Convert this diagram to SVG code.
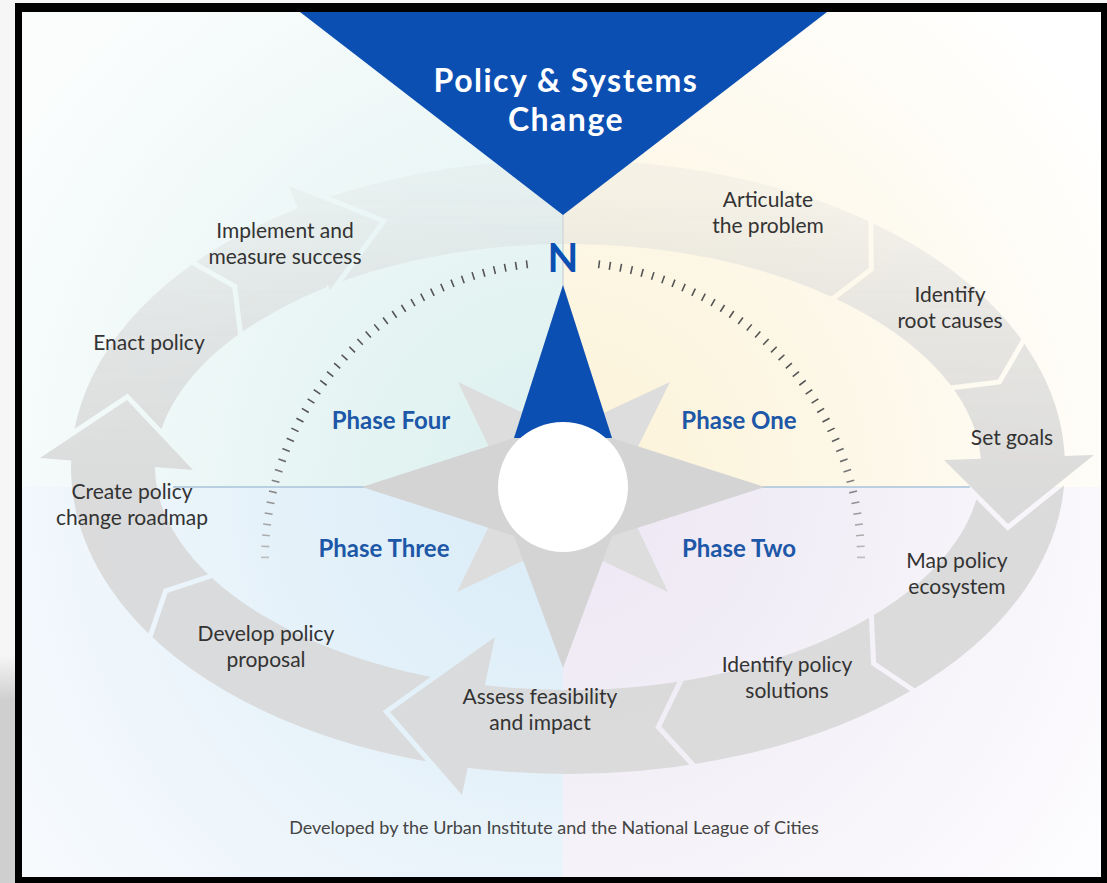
<svg xmlns="http://www.w3.org/2000/svg" width="1107" height="883" viewBox="0 0 1107 883">
<defs>
<style>
.lbl{font-family:Lato,"Liberation Sans",sans-serif;font-size:21px;fill:#333;text-anchor:middle}
.phase{font-family:Lato,"Liberation Sans",sans-serif;font-weight:700;font-size:24px;fill:#1d57a7;text-anchor:middle}
.title{font-family:Lato,"Liberation Sans",sans-serif;font-weight:700;font-size:32px;letter-spacing:1.5px;fill:#fff;text-anchor:middle}
.ringfill{fill:#d9d9d9}
.gap{fill:none;stroke:#000;stroke-linejoin:miter;stroke-miterlimit:10}
.tick{fill:none;stroke:url(#tickG);stroke-width:8;stroke-dasharray:1.6 9.4}
</style>
<radialGradient id="gTL" gradientUnits="userSpaceOnUse" cx="563" cy="487" r="650"><stop offset="0" stop-color="#dbf0ee"/><stop offset="0.35" stop-color="#e5f4f3"/><stop offset="1" stop-color="#fbfdfd"/></radialGradient>
<radialGradient id="gTR" gradientUnits="userSpaceOnUse" cx="563" cy="487" r="650"><stop offset="0" stop-color="#fcf2d6"/><stop offset="0.35" stop-color="#fcf6e3"/><stop offset="1" stop-color="#ffffff"/></radialGradient>
<radialGradient id="gBL" gradientUnits="userSpaceOnUse" cx="563" cy="487" r="650"><stop offset="0" stop-color="#d9ecf8"/><stop offset="0.35" stop-color="#e2f0f9"/><stop offset="1" stop-color="#f7fafd"/></radialGradient>
<radialGradient id="gBR" gradientUnits="userSpaceOnUse" cx="563" cy="487" r="650"><stop offset="0" stop-color="#ece6f3"/><stop offset="0.35" stop-color="#f1edf6"/><stop offset="1" stop-color="#fdfcfe"/></radialGradient>
<linearGradient id="sideG" gradientUnits="userSpaceOnUse" x1="0" y1="655" x2="0" y2="700"><stop offset="0" stop-color="#f6f6f6"/><stop offset="1" stop-color="#cfcfcf"/></linearGradient>
<linearGradient id="tickG" gradientUnits="userSpaceOnUse" x1="0" y1="430" x2="0" y2="570"><stop offset="0" stop-color="#555"/><stop offset="1" stop-color="#c9c9c9"/></linearGradient>
<linearGradient id="fadeG" gradientUnits="userSpaceOnUse" x1="0" y1="185" x2="0" y2="470"><stop offset="0" stop-color="#3a3a3a"/><stop offset="0.5" stop-color="#b0b0b0"/><stop offset="1" stop-color="#ffffff"/></linearGradient>
<mask id="fade" maskUnits="userSpaceOnUse" x="0" y="0" width="1107" height="883"><rect width="1107" height="883" fill="url(#fadeG)"/></mask>
<mask id="gaps" maskUnits="userSpaceOnUse" x="0" y="0" width="1107" height="883">
<rect width="1107" height="883" fill="#fff"/>
<g class="gap" stroke-width="5">
<polyline points="870.8,215.6 871.3,269.3 828.6,301.8"/>
<polyline points="1026.3,335.6 999.4,382 946.1,388.4"/>
<polyline points="918.1,693.5 873.6,663.5 871.1,609.9"/>
<polyline points="699.1,771.6 658.3,727 684.7,672.6"/>
<polyline points="148.3,641.8 165.6,591 216.5,574.2"/>
<polyline points="187.9,259.9 234.6,286.4 241.3,339.7"/>
</g>
<g class="gap" stroke-width="10">
<polyline points="944,460 1008,524 1094,455"/>
<polyline points="495,637 390,712 462,795"/>
<polyline points="40,458 127,400 193,470"/>
<polyline points="289,186 380,222 330,290"/>
</g>
</mask>
</defs>

<g id="background">
<rect width="1107" height="883" fill="#f6f6f6"/>
<rect x="0" y="655" width="15" height="228" fill="url(#sideG)"/>
<rect x="15" y="3" width="1092" height="880" fill="#000"/>
<rect x="22" y="12" width="541" height="475" fill="url(#gTL)"/>
<rect x="563" y="12" width="538" height="475" fill="url(#gTR)"/>
<rect x="22" y="487" width="541" height="390" fill="url(#gBL)"/>
<rect x="563" y="487" width="538" height="390" fill="url(#gBR)"/>
<line x1="173" y1="487" x2="970" y2="487" stroke="#a9c3da" stroke-width="1.5"/>
<line x1="563" y1="212" x2="563" y2="292" stroke="#c6d0d8" stroke-width="1.2"/>
</g>

<g id="dial-ticks">
<path class="tick" d="M527.7,264.2 A298,298 0 0 0 265,560"/>
<path class="tick" d="M598.3,264.2 A298,298 0 0 1 861,560"/>
</g>

<g id="cycle-arrows" mask="url(#fade)" opacity="0.9">
<ellipse cx="568" cy="467" rx="455" ry="265" fill="none" stroke="#d9d9d9" stroke-width="84" mask="url(#gaps)"/>
<polygon class="ringfill" points="944,460 1094,455 1008,524"/>
<polygon class="ringfill" points="495,637 390,712 462,795"/>
<polygon class="ringfill" points="40,458 127,400 193,470"/>
<polygon class="ringfill" points="289,186 380,222 330,290"/>
</g>

<g id="compass">
<polygon points="670,382 618,487 668,592 563,542 457,592 508,487 458,382 563,432" fill="#dddddd"/>
<polygon points="563,285 612,438 765,487 612,536 563,668 514,536 362,487 514,438" fill="#d4d4d4"/>
<polygon points="563,285 612,438 514,438" fill="#0c4fb3"/>
<circle cx="563" cy="487" r="65" fill="#fff"/>
</g>

<g id="title-banner">
<polygon points="300,12 827,12 563,215" fill="#0c4fb3"/>
<text class="title" x="566" y="92">Policy &amp; Systems</text>
<text class="title" x="566" y="131">Change</text>
</g>

<g id="north">
<text x="563" y="272" text-anchor="middle" font-family="Lato,'Liberation Sans',sans-serif" font-weight="700" font-size="40" fill="#0c4fb3">N</text>
</g>

<g id="phase-one"><text class="phase" x="739" y="429">Phase One</text></g>
<g id="phase-two"><text class="phase" x="739" y="557">Phase Two</text></g>
<g id="phase-three"><text class="phase" x="384" y="557">Phase Three</text></g>
<g id="phase-four"><text class="phase" x="391" y="429">Phase Four</text></g>

<g id="step-articulate"><text class="lbl" x="768" y="207">Articulate</text><text class="lbl" x="768" y="233">the problem</text></g>
<g id="step-root-causes"><text class="lbl" x="950" y="302">Identify</text><text class="lbl" x="950" y="328">root causes</text></g>
<g id="step-set-goals"><text class="lbl" x="1012" y="445">Set goals</text></g>
<g id="step-map"><text class="lbl" x="957" y="568">Map policy</text><text class="lbl" x="957" y="594">ecosystem</text></g>
<g id="step-solutions"><text class="lbl" x="787" y="672">Identify policy</text><text class="lbl" x="787" y="698">solutions</text></g>
<g id="step-assess"><text class="lbl" x="540" y="704">Assess feasibility</text><text class="lbl" x="540" y="730">and impact</text></g>
<g id="step-develop"><text class="lbl" x="266" y="641">Develop policy</text><text class="lbl" x="266" y="667">proposal</text></g>
<g id="step-roadmap"><text class="lbl" x="132" y="499">Create policy</text><text class="lbl" x="132" y="525">change roadmap</text></g>
<g id="step-enact"><text class="lbl" x="149" y="350">Enact policy</text></g>
<g id="step-implement"><text class="lbl" x="285" y="238">Implement and</text><text class="lbl" x="285" y="264">measure success</text></g>

<g id="footer"><text x="554" y="834" text-anchor="middle" font-family="Lato,'Liberation Sans',sans-serif" font-size="18" fill="#444">Developed by the Urban Institute and the National League of Cities</text></g>
</svg>
